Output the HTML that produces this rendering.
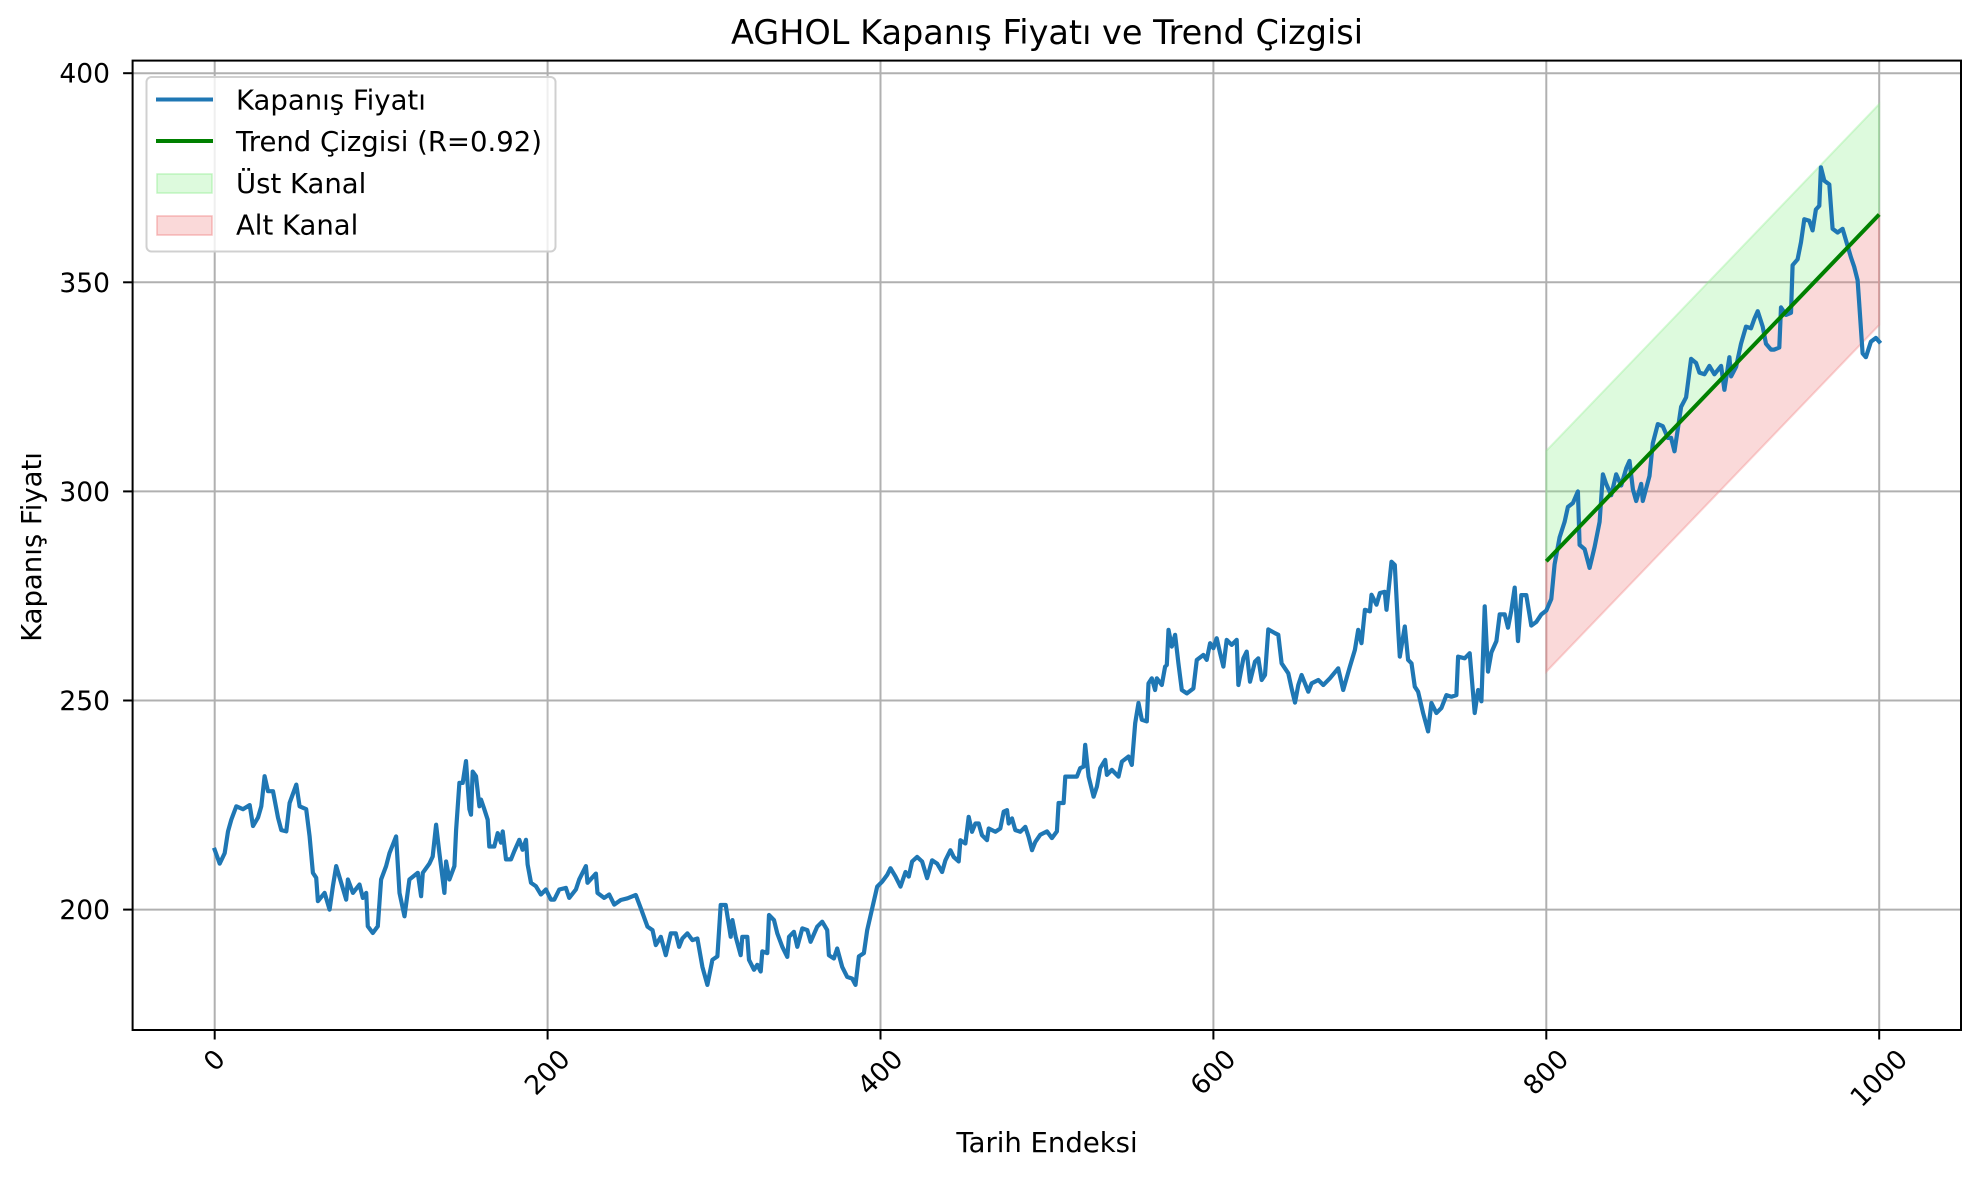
<!DOCTYPE html>
<html>
<head>
<meta charset="utf-8">
<style>
  html, body { margin: 0; padding: 0; background: #ffffff; }
  svg { display: block; font-family: "DejaVu Sans", "Liberation Sans", sans-serif; }
</style>
</head>
<body>
<svg id="chart" width="1980" height="1178" viewBox="0 0 1980 1178" xmlns="http://www.w3.org/2000/svg">
  <rect x="0" y="0" width="1980" height="1178" fill="#ffffff"/>
  <g id="grid"></g>
  <g id="fills"></g>
  <g id="series"></g>
  <g id="axes"></g>
  <text x="1047" y="44" font-size="33.5" text-anchor="middle" fill="#000">AGHOL Kapanış Fiyatı ve Trend Çizgisi</text>
  <text x="1047" y="1152" font-size="27.5" text-anchor="middle" fill="#000">Tarih Endeksi</text>
  <text x="0" y="0" font-size="27.5" text-anchor="middle" fill="#000" transform="translate(41,547) rotate(-90)">Kapanış Fiyatı</text>
  <g id="legend">
    <rect x="146.5" y="77" width="409" height="174.5" rx="5" fill="#ffffff" fill-opacity="0.8" stroke="#d0d0d0" stroke-width="2"/>
    <g>
      <line x1="156" y1="99.5" x2="213" y2="99.5" stroke="#1f77b4" stroke-width="4"/>
      <text x="236" y="109.5" font-size="27.5" fill="#000">Kapanış Fiyatı</text>
    </g>
    <g>
      <line x1="156" y1="141" x2="213" y2="141" stroke="#008000" stroke-width="4"/>
      <text x="236" y="151" font-size="27.5" fill="#000">Trend Çizgisi (R=0.92)</text>
    </g>
    <g>
      <rect x="157" y="174" width="55" height="19" fill="#90ee90" fill-opacity="0.3" stroke="#90ee90" stroke-opacity="0.5" stroke-width="1.5"/>
      <text x="236" y="193" font-size="27.5" fill="#000">Üst Kanal</text>
    </g>
    <g>
      <rect x="157" y="216" width="55" height="19" fill="#f08080" fill-opacity="0.3" stroke="#f08080" stroke-opacity="0.5" stroke-width="1.5"/>
      <text x="236" y="234.5" font-size="27.5" fill="#000">Alt Kanal</text>
    </g>
  </g>
</svg>
<script>
// ---- data ----
const idx = [0,3,6,8,10,13,17,21,23,26,28,30,32,35,38,40,43,45,49,51,55,57,59,61,62,66,69,71,73,76,79,80,83,87,89,91,92,95,98,100,103,105,109,111,114,117,122,124,125,129,131,133,135,138,139,141,144,145,147,149,151,153,154,155,157,159,160,162,164,165,168,170,172,173,175,178,180,183,185,187,188,190,193,196,199,202,204,207,211,213,217,219,223,224,229,230,234,237,240,244,248,253,256,260,263,265,268,271,274,277,279,281,284,287,290,293,296,299,302,304,307,310,311,313,316,317,320,321,324,326,328,329,332,333,336,338,341,344,345,348,350,353,356,358,362,365,368,369,372,374,377,380,383,385,387,390,392,395,398,401,404,406,409,412,415,417,419,422,425,428,431,434,437,439,442,444,447,448,451,453,455,457,459,461,464,465,469,472,474,476,477,479,481,484,487,489,491,493,496,500,503,506,507,510,511,514,518,520,522,523,525,528,530,532,535,536,539,543,545,549,551,553,555,557,560,561,563,565,566,569,571,572,573,575,577,579,581,584,588,590,594,596,598,600,602,604,606,608,611,614,615,618,620,622,625,627,629,631,633,637,639,641,645,647,649,651,653,657,659,663,666,670,675,678,682,685,687,689,691,694,695,698,700,703,704,707,709,711,712,715,717,719,721,723,726,729,731,734,737,740,743,746,747,751,754,757,759,761,763,765,767,770,772,775,777,779,781,783,785,788,791,794,797,800,803,805,808,811,813,816,819,820,823,826,829,832,834,836,839,842,845,848,850,852,854,857,858,862,864,867,870,873,875,877,881,884,887,890,892,895,898,901,905,907,910,911,914,917,920,923,925,927,930,932,935,937,940,941,944,947,948,951,953,955,958,960,962,964,965,967,970,972,975,978,980,983,985,987,988,990,992,995,998,1000];
const price = [214.3,211,213.5,218.7,221.5,224.7,224,225,220,222,224.7,231.9,228.3,228.3,222,219,218.7,225.5,229.9,224.7,224,217.5,208.8,207.6,202,204,200,205.6,210.4,206.4,202.4,207.2,204,206,202.8,204,196,194.4,196,207.2,210.4,213.5,217.5,204,198.4,207.2,208.8,203.2,208.8,211,212.7,220.3,213.5,204,211.5,207.2,210.4,219,230.3,230.3,235.5,224,222.7,233,231.9,224.7,226.3,224,221.5,215.1,215.1,218.3,216,218.7,212,212,214,216.7,214.3,216.7,210.8,206.4,205.6,203.6,204.8,202.4,202.4,204.8,205.2,202.8,204.8,207.2,210.4,206.4,208.6,204,202.8,203.6,201.2,202.3,202.7,203.5,200.3,195.9,195.1,191.5,193.5,189.1,194.3,194.3,191.1,193.1,194.3,192.7,193.1,186.3,182,188,188.8,201.1,201.1,193.5,197.5,193.5,189.1,193.5,193.5,188,185.6,186.8,185.2,190,189.6,198.7,197.5,194.3,191.1,188.7,193.5,194.7,191.1,195.5,195.1,192.3,195.9,197.1,195.1,189.1,188.3,190.7,186.3,183.9,183.5,182,188.8,189.6,195.1,200.3,205.5,206.7,208.3,209.9,207.9,205.5,209,207.9,211.5,212.6,211.5,207.5,211.8,211,209,211.8,214.2,212.6,211.5,216.6,215.8,222.2,218.6,220.6,220.6,217.8,216.6,219.4,218.6,219.4,223.4,223.8,220.6,221.8,219,218.6,219.8,217.4,214.2,216.2,217.9,218.7,217.1,218.7,225.5,225.5,231.8,231.8,231.8,233.8,234.2,239.4,231.8,227,229.4,233.8,235.8,232.2,233.4,231.8,235.4,236.6,234.6,244.6,249.4,245.4,245,254.1,255.3,252.5,255.3,253.7,258.1,258.5,266.9,262.9,265.7,258.9,252.5,251.7,252.9,259.7,260.9,259.7,263.7,262.5,264.9,261.3,258.1,264.5,263.3,264.5,253.7,260.1,261.7,254.5,259.3,260.1,254.9,256.1,267,266.1,265.7,258.9,256.5,252.9,249.5,253.7,256.1,252.1,254.1,254.9,253.7,255.3,257.7,252.5,258.1,262.1,266.9,263.7,271.7,271.3,275.3,272.9,275.7,276,271.7,283.2,282.4,266.9,260.5,267.7,259.7,258.9,253.3,252.1,247,242.6,249.4,247,248.2,251.3,250.9,251.3,260.5,260.1,261.3,247,252.5,249.8,272.5,256.9,261.5,264.2,270.6,270.6,267.4,271.5,277,264.2,275.2,275.2,267.9,268.8,270.6,271.5,274.3,282.6,289,292.7,296.3,297.2,300,287.2,286.2,281.7,286.7,292.7,304.1,301.8,299.1,304.1,301.4,305.5,307.3,300.5,297.7,301.8,297.7,303.7,311.5,316.1,315.6,312.8,312.8,309.6,320.2,322.5,331.7,330.7,328.4,328,330,328,330,324.3,332.1,327.5,329.8,335.3,339.4,339,341.3,343.1,339.4,335.3,333.9,333.9,334.4,344,342.2,342.7,354.1,355.5,359.6,365.1,364.7,362.4,367.4,368.3,377.5,374.3,373.4,362.8,361.9,362.8,360.1,356,353.7,350.5,345,333,332.1,335.8,336.7,335.8];
const trendX = [800, 1000];
const trendY = [283.3, 366.2];
const upperY = [309.7, 392.6];
const lowerY = [256.9, 339.8];
const xTicks = [0, 200, 400, 600, 800, 1000];
const yTicks = [200, 250, 300, 350, 400];

// ---- axis functions ----
const AX = {left: 132.6, right: 1961, top: 60.6, bottom: 1030};
function sx(v) { return 214.7 + v * 1.6645; }
function sy(v) { return 73.2 + (400 - v) * 4.182; }
const NS = 'http://www.w3.org/2000/svg';
function mk(tag, attrs, parent) {
  const el = document.createElementNS(NS, tag);
  for (const k in attrs) el.setAttribute(k, attrs[k]);
  parent.appendChild(el);
  return el;
}
const grid = document.getElementById('grid');
const fills = document.getElementById('fills');
const series = document.getElementById('series');
const axes = document.getElementById('axes');

// grid + ticks
xTicks.forEach(t => {
  const x = sx(t);
  const g = mk('line', {x1: x, x2: x, y1: AX.top, y2: AX.bottom, stroke: '#b0b0b0', 'stroke-width': 2}, grid);
  
  
  const tk = mk('line', {x1: x, x2: x, y1: AX.bottom, y2: AX.bottom + 9.5, stroke: '#000', 'stroke-width': 2}, axes);
  
  
  const label = String(t);
  const w = label.length * 0.636 * 26.5;
  const h = (w + 19) * 0.707;
  const cy = AX.bottom + 18 + h / 2;
  const tx = mk('text', {x: 0, y: 0, 'font-size': 26.5, 'text-anchor': 'middle', 'dominant-baseline': 'central', fill: '#000',
    transform: 'translate(' + x + ',' + cy + ') rotate(-45)'}, axes);
  tx.textContent = label;
  
  
});
yTicks.forEach(t => {
  const y = sy(t);
  const g = mk('line', {x1: AX.left, x2: AX.right, y1: y, y2: y, stroke: '#b0b0b0', 'stroke-width': 2}, grid);
  
  
  const tk = mk('line', {x1: AX.left - 9.5, x2: AX.left, y1: y, y2: y, stroke: '#000', 'stroke-width': 2}, axes);
  
  
  const tx = mk('text', {x: 110, y: y + 9.5, 'font-size': 26.5, 'text-anchor': 'end', fill: '#000'}, axes);
  tx.textContent = String(t);
  
  
});

// channels
const up = mk('polygon', {points: [sx(trendX[0]) + ',' + sy(trendY[0]), sx(trendX[1]) + ',' + sy(trendY[1]), sx(trendX[1]) + ',' + sy(upperY[1]), sx(trendX[0]) + ',' + sy(upperY[0])].join(' '),
  fill: '#90ee90', 'fill-opacity': 0.3, stroke: '#90ee90', 'stroke-opacity': 0.35, 'stroke-width': 2}, fills);


const lo = mk('polygon', {points: [sx(trendX[0]) + ',' + sy(lowerY[0]), sx(trendX[1]) + ',' + sy(lowerY[1]), sx(trendX[1]) + ',' + sy(trendY[1]), sx(trendX[0]) + ',' + sy(trendY[0])].join(' '),
  fill: '#f08080', 'fill-opacity': 0.3, stroke: '#f08080', 'stroke-opacity': 0.35, 'stroke-width': 2}, fills);



// price line
const pts = idx.map((v, i) => sx(v).toFixed(1) + ',' + sy(price[i]).toFixed(1)).join(' ');
const pl = mk('polyline', {points: pts, fill: 'none', stroke: '#1f77b4', 'stroke-width': 4.2, 'stroke-linejoin': 'round', 'stroke-linecap': 'square'}, series);



// trend line
const tl = mk('line', {x1: sx(trendX[0]), y1: sy(trendY[0]), x2: sx(trendX[1]), y2: sy(trendY[1]), stroke: '#008000', 'stroke-width': 4}, series);



// spines
const frame = mk('rect', {x: AX.left, y: AX.top, width: AX.right - AX.left, height: AX.bottom - AX.top, fill: 'none', stroke: '#000', 'stroke-width': 2}, axes);


</script>
</body>
</html>
